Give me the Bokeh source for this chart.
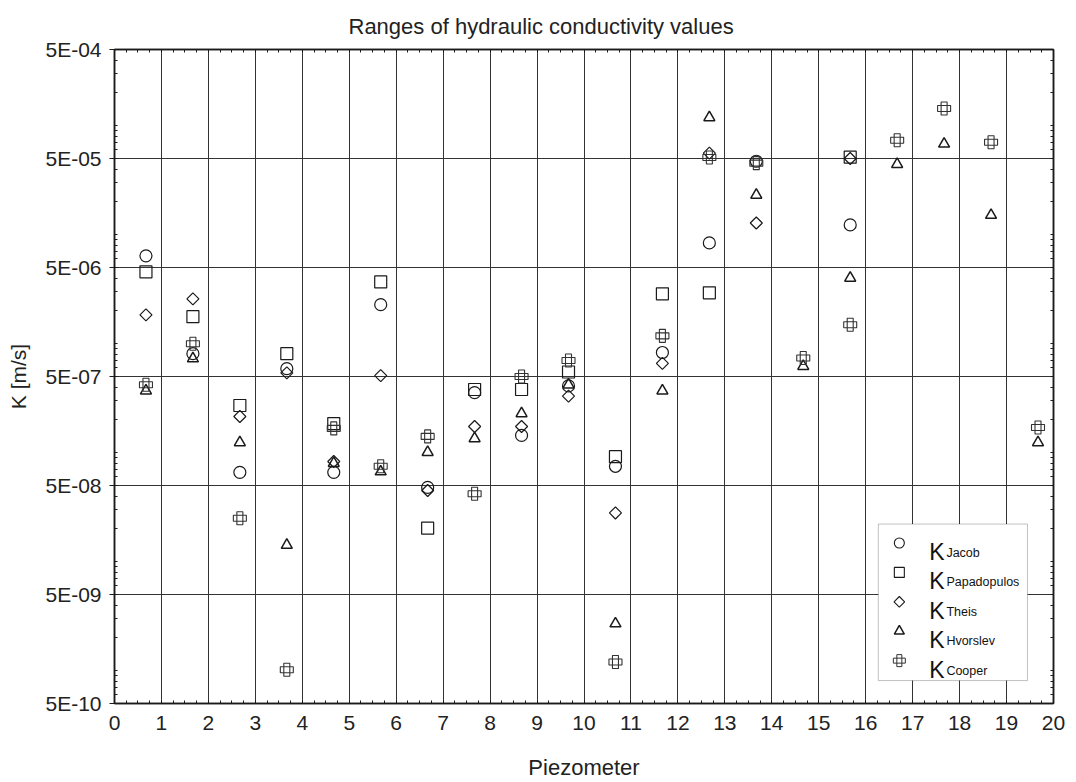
import math
from bokeh.plotting import figure
from bokeh.models import (FixedTicker, CustomJSTickFormatter, LinearAxis, LogAxis,
                          BoxAnnotation, Label, Title, ColumnDataSource)
from bokeh.embed import file_html
from bokeh.resources import INLINE

nan = float("nan")

# ---------------- data ----------------
piezometer = list(range(1, 21))
k_jacob = [6.4e-6, 8.1e-7, 6.6e-8, 5.9e-7, 6.6e-8, 2.28e-6, 4.8e-8, 3.56e-7, 1.44e-7, 4.1e-7,
           7.5e-8, 8.3e-7, 8.4e-6, 4.72e-5, nan, 1.23e-5, nan, nan, nan, nan]
k_papadopulos = [4.56e-6, 1.77e-6, 2.71e-7, 8.1e-7, 1.85e-7, 3.69e-6, 2.03e-8, 3.8e-7, 3.8e-7, 5.5e-7,
                 9.2e-8, 2.87e-6, 2.93e-6, nan, nan, 5.14e-5, nan, nan, nan, nan]
k_theis = [1.84e-6, 2.58e-6, 2.15e-7, 5.4e-7, 8.3e-8, 5.1e-7, 4.5e-8, 1.74e-7, 1.74e-7, 3.3e-7,
           2.8e-8, 6.6e-7, 5.6e-5, 1.28e-5, nan, 5.0e-5, nan, nan, nan, nan]
k_hvorslev = [3.7e-7, 7.3e-7, 1.24e-7, 1.42e-8, 8.0e-8, 6.7e-8, 1.01e-7, 1.35e-7, 2.29e-7, 4.2e-7,
              2.7e-9, 3.7e-7, 1.19e-4, 2.31e-5, 6.2e-7, 4.0e-6, 4.43e-5, 6.8e-5, 1.51e-5, 1.24e-7]
k_cooper = [4.2e-7, 1.0e-6, 2.5e-8, 1.02e-9, 1.67e-7, 7.5e-8, 1.41e-7, 4.2e-8, 5.0e-7, 7.0e-7,
            1.2e-9, 1.18e-6, 5.1e-5, 4.53e-5, 7.4e-7, 1.49e-6, 7.35e-5, 1.44e-4, 7.05e-5, 1.70e-7]

series_names = ["Jacob", "Papadopulos", "Theis", "Hvorslev", "Cooper"]

x_tick_values = list(range(0, 21))
x_tick_labels = [str(v) for v in x_tick_values]
y_tick_values = [5e-10, 5e-9, 5e-8, 5e-7, 5e-6, 5e-5, 5e-4]
y_tick_labels = ["5E-10", "5E-09", "5E-08", "5E-07", "5E-06", "5E-05", "5E-04"]

title_text = "Ranges of hydraulic conductivity values"
x_label = "Piezometer"
y_label = "K [m/s]"

# ---------------- styling ----------------
FONT = "Liberation Sans"
INK = "#1a1a1a"
X0, X1 = 0, 20
Y0, Y1 = 5e-10, 5e-4
DODGE = -0.33  # markers sit slightly left of each piezometer number

x_pos = [p_ + DODGE for p_ in piezometer]

p = figure(width=1076, height=782, x_range=(X0, X1), y_range=(Y0, Y1),
           y_axis_type="log", output_backend="svg", toolbar_location=None,
           min_border_left=114, min_border_right=23, min_border_top=48,
           min_border_bottom=78, background_fill_color="white",
           border_fill_color="white", outline_line_color=INK, outline_line_width=1.5)

p.title = Title(text=title_text, align="left", offset=234, text_font=FONT,
                text_font_size="22px", text_font_style="normal", text_color="#222222",
                standoff=22)

x_minor = [i / 4 for i in range(0, 81)]
y_minor = []
for e in range(-10, -3):
    for m in range(1, 10):
        v = m * 10 ** e
        if Y0 <= v <= Y1:
            y_minor.append(v)

x_ticker = FixedTicker(ticks=x_tick_values, minor_ticks=x_minor)
y_ticker = FixedTicker(ticks=y_tick_values, minor_ticks=y_minor)

y_fmt = CustomJSTickFormatter(args=dict(vals=y_tick_values, labs=y_tick_labels), code="""
let best = 0, d = Infinity;
for (let i = 0; i < vals.length; i++) {
  const dd = Math.abs(Math.log10(tick) - Math.log10(vals[i]));
  if (dd < d) { d = dd; best = i; }
}
return labs[best];
""")
x_fmt = CustomJSTickFormatter(args=dict(vals=x_tick_values, labs=x_tick_labels), code="""
let best = 0, d = Infinity;
for (let i = 0; i < vals.length; i++) {
  const dd = Math.abs(tick - vals[i]);
  if (dd < d) { d = dd; best = i; }
}
return labs[best];
""")

xa = p.xaxis[0]
xa.ticker = x_ticker
xa.formatter = x_fmt
ya = p.yaxis[0]
ya.ticker = y_ticker
ya.formatter = y_fmt

for ax in (xa, ya):
    ax.axis_line_color = INK
    ax.axis_line_width = 1.5
    ax.major_tick_line_color = INK
    ax.minor_tick_line_color = INK
    ax.major_tick_in = 0
    ax.major_tick_out = 5
    ax.minor_tick_in = 3
    ax.minor_tick_out = 0
    ax.major_label_text_font = FONT
    ax.major_label_text_font_size = "21px"
    ax.major_label_text_color = "#222222"
    ax.axis_label_text_font = FONT
    ax.axis_label_text_font_size = "21px"
    ax.axis_label_text_font_style = "normal"
    ax.axis_label_text_color = "#222222"

xa.major_tick_out = 0
xa.axis_label = x_label
xa.axis_label_text_font_size = "22px"
xa.major_label_standoff = 12
xa.axis_label_standoff = 22
ya.axis_label = y_label
ya.major_label_standoff = 8
ya.axis_label_standoff = 12

# frame axes on top and right: minor ticks only, no labels
top_ax = LinearAxis(ticker=FixedTicker(ticks=[], minor_ticks=x_minor))
right_ax = LogAxis(ticker=FixedTicker(ticks=[], minor_ticks=y_minor))
for ax in (top_ax, right_ax):
    ax.axis_line_color = INK
    ax.axis_line_width = 1.5
    ax.major_tick_in = 3
    ax.major_tick_out = 0
    ax.minor_tick_in = 3
    ax.minor_tick_out = 0
    ax.major_tick_line_color = INK
    ax.minor_tick_line_color = INK
    ax.major_label_standoff = 0
p.add_layout(top_ax, "above")
p.add_layout(right_ax, "right")

for g in (p.xgrid[0], p.ygrid[0]):
    g.grid_line_color = "#333333"
    g.grid_line_width = 1
p.xgrid[0].ticker = FixedTicker(ticks=x_tick_values)
p.ygrid[0].ticker = FixedTicker(ticks=y_tick_values)

src = ColumnDataSource(dict(x=x_pos, jacob=k_jacob, pap=k_papadopulos, theis=k_theis,
                            hvor=k_hvorslev, cooper=k_cooper))

LW = 1.2
p.scatter("x", "jacob", source=src, marker="circle", size=12, fill_alpha=0,
          line_color=INK, line_width=LW)
p.scatter("x", "pap", source=src, marker="square", size=12, fill_alpha=0,
          line_color=INK, line_width=LW)
p.scatter("x", "theis", source=src, marker="square", size=8.5, angle=math.pi / 4,
          fill_alpha=0, line_color=INK, line_width=LW)
p.scatter("x", "hvor", source=src, marker="triangle", size=11, fill_alpha=0,
          line_color=INK, line_width=1.5)
p.rect("x", "cooper", source=src, width=13, height=6, width_units="screen",
       height_units="screen", fill_alpha=0, line_color="#333333", line_width=1.1)
p.rect("x", "cooper", source=src, width=6, height=13, width_units="screen",
       height_units="screen", fill_alpha=0, line_color="#333333", line_width=1.1)

# ---------------- custom legend (frame-pixel layout converted to data space) ----------------
FW, FH = 938.0, 656.0


def fx(px):
    return X0 + px / FW * (X1 - X0)


def fy(py):
    ly1, ly0 = math.log10(Y1), math.log10(Y0)
    return 10 ** (ly1 - py / FH * (ly1 - ly0))


box = BoxAnnotation(left=fx(763), right=fx(912), top=fy(476), bottom=fy(633),
                    fill_color="white", fill_alpha=1.0, line_color="#333333",
                    line_width=1, level="annotation")
p.add_layout(box)

row_px = [495 + i * 29.5 for i in range(5)]
mx = fx(784)
ly = [fy(r) for r in row_px]

r1 = p.scatter([mx], [ly[0]], marker="circle", size=10, fill_alpha=0, line_color=INK, line_width=1.1)
r2 = p.scatter([mx], [ly[1]], marker="square", size=10, fill_alpha=0, line_color=INK, line_width=1.1)
r3 = p.scatter([mx], [ly[2]], marker="square", size=7.5, angle=math.pi / 4, fill_alpha=0,
               line_color=INK, line_width=1.1)
r4 = p.scatter([mx], [ly[3]], marker="triangle", size=10, fill_alpha=0, line_color=INK, line_width=1.5)
r5 = p.rect([mx], [ly[4]], width=12, height=5, width_units="screen", height_units="screen",
            fill_alpha=0, line_color="#333333", line_width=1.0)
r6 = p.rect([mx], [ly[4]], width=5, height=12, width_units="screen", height_units="screen",
            fill_alpha=0, line_color="#333333", line_width=1.0)
for r in (r1, r2, r3, r4, r5, r6):
    r.level = "overlay"

for name, rp in zip(series_names, row_px):
    kl = Label(x=fx(814), y=fy(rp + 9), text="K", text_font=FONT, text_font_size="23px",
               text_color="#111111", text_baseline="alphabetic", text_align="left", level="overlay")
    sl = Label(x=fx(831), y=fy(rp + 10), text=name, text_font=FONT, text_font_size="12.5px",
               text_color="#111111", text_baseline="alphabetic", text_align="left", level="overlay")
    p.add_layout(kl)
    p.add_layout(sl)

open("out.html", "w").write(file_html(p, INLINE))
